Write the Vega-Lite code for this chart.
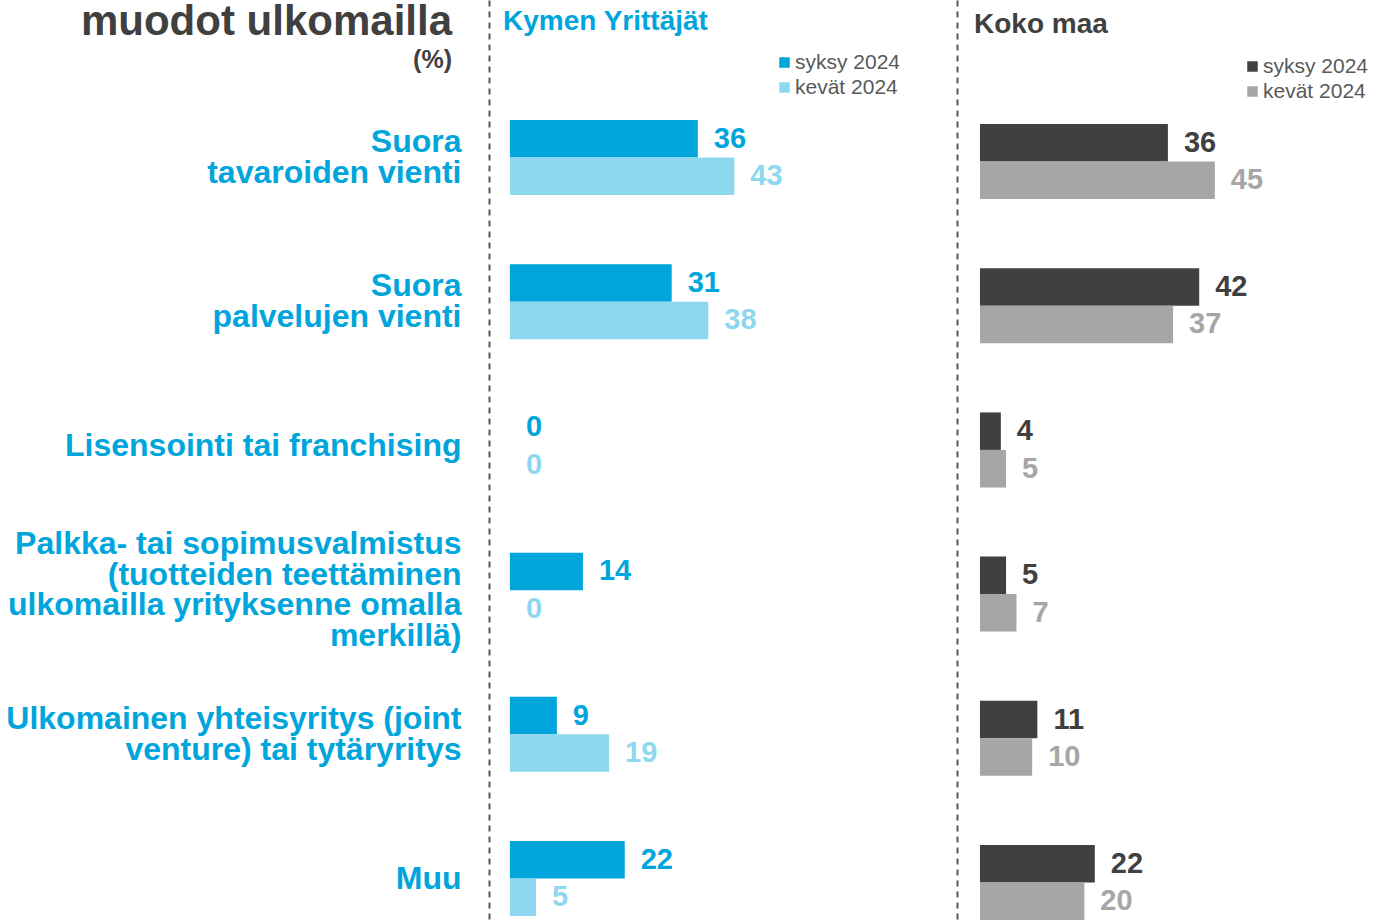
{
  "$schema": "https://vega.github.io/schema/vega-lite/v6.json",
  "background": "white",
  "padding": {"left": 5, "top": 0, "right": 0, "bottom": 0},
  "title": {
    "text": "muodot ulkomailla",
    "subtitle": "(%)",
    "anchor": "start",
    "frame": "group",
    "align": "right",
    "dx": -37,
    "offset": -74,
    "font": "Liberation Sans",
    "fontSize": 42,
    "fontWeight": "bold",
    "color": "#404040",
    "subtitleFont": "Liberation Sans",
    "subtitleFontSize": 25,
    "subtitleFontWeight": "bold",
    "subtitleColor": "#404040",
    "subtitlePadding": 4
  },
  "datasets": {
    "kymen": [
      {"category": "Suora\ntavaroiden vienti", "period": "syksy 2024", "value": 36},
      {"category": "Suora\ntavaroiden vienti", "period": "kevät 2024", "value": 43},
      {"category": "Suora\npalvelujen vienti", "period": "syksy 2024", "value": 31},
      {"category": "Suora\npalvelujen vienti", "period": "kevät 2024", "value": 38},
      {"category": "Lisensointi tai franchising", "period": "syksy 2024", "value": 0},
      {"category": "Lisensointi tai franchising", "period": "kevät 2024", "value": 0},
      {"category": "Palkka- tai sopimusvalmistus\n(tuotteiden teettäminen\nulkomailla yrityksenne omalla\nmerkillä)", "period": "syksy 2024", "value": 14},
      {"category": "Palkka- tai sopimusvalmistus\n(tuotteiden teettäminen\nulkomailla yrityksenne omalla\nmerkillä)", "period": "kevät 2024", "value": 0},
      {"category": "Ulkomainen yhteisyritys (joint\nventure) tai tytäryritys", "period": "syksy 2024", "value": 9},
      {"category": "Ulkomainen yhteisyritys (joint\nventure) tai tytäryritys", "period": "kevät 2024", "value": 19},
      {"category": "Muu", "period": "syksy 2024", "value": 22},
      {"category": "Muu", "period": "kevät 2024", "value": 5}
    ],
    "koko": [
      {"category": "Suora\ntavaroiden vienti", "period": "syksy 2024", "value": 36},
      {"category": "Suora\ntavaroiden vienti", "period": "kevät 2024", "value": 45},
      {"category": "Suora\npalvelujen vienti", "period": "syksy 2024", "value": 42},
      {"category": "Suora\npalvelujen vienti", "period": "kevät 2024", "value": 37},
      {"category": "Lisensointi tai franchising", "period": "syksy 2024", "value": 4},
      {"category": "Lisensointi tai franchising", "period": "kevät 2024", "value": 5},
      {"category": "Palkka- tai sopimusvalmistus\n(tuotteiden teettäminen\nulkomailla yrityksenne omalla\nmerkillä)", "period": "syksy 2024", "value": 5},
      {"category": "Palkka- tai sopimusvalmistus\n(tuotteiden teettäminen\nulkomailla yrityksenne omalla\nmerkillä)", "period": "kevät 2024", "value": 7},
      {"category": "Ulkomainen yhteisyritys (joint\nventure) tai tytäryritys", "period": "syksy 2024", "value": 11},
      {"category": "Ulkomainen yhteisyritys (joint\nventure) tai tytäryritys", "period": "kevät 2024", "value": 10},
      {"category": "Muu", "period": "syksy 2024", "value": 22},
      {"category": "Muu", "period": "kevät 2024", "value": 20}
    ]
  },
  "spacing": 0,
  "hconcat": [
    {
      "width": 468,
      "height": 920,
      "data": {"name": "kymen"},
      "title": {
        "text": "Kymen Yrittäjät",
        "anchor": "start",
        "frame": "group",
        "dx": 14,
        "offset": -36,
        "font": "Liberation Sans",
        "fontSize": 28,
        "fontWeight": "bold",
        "color": "#00A5DC"
      },
      "encoding": {
        "y": {
          "field": "category",
          "type": "nominal",
          "sort": null,
          "scale": {"paddingInner": 0.48, "paddingOuter": 0.43, "align": 0.968},
          "axis": {
            "title": null,
            "domain": true,
            "domainDash": [6, 5],
            "domainColor": "#595959",
            "domainWidth": 2,
            "ticks": false,
            "grid": false,
            "labelExpr": "split(datum.value, '\\n')",
            "labelOffset": {"expr": "-(length(split(datum.value, '\\n')) - 1) * 15.25"},
            "labelFont": "Liberation Sans",
            "labelFontSize": 32,
            "labelFontWeight": "bold",
            "labelColor": "#00A5DC",
            "labelPadding": 28,
            "labelLineHeight": 30.5,
            "labelLimit": 600,
            "labelAlign": "right",
            "labelBaseline": "middle",
            "labelOverlap": false
          }
        },
        "yOffset": {"field": "period", "type": "nominal", "sort": ["syksy 2024", "kevät 2024"]},
        "x": {"field": "value", "type": "quantitative", "scale": {"domain": [-4, 85.65]}, "axis": null},
        "color": {
          "field": "period",
          "type": "nominal",
          "scale": {"domain": ["syksy 2024", "kevät 2024"], "range": ["#00A5DC", "#8DD7EF"]},
          "legend": {
            "orient": "none",
            "legendX": 285,
            "legendY": 52,
            "title": null,
            "symbolType": "square",
            "symbolSize": 110,
            "symbolStrokeWidth": 0,
            "labelFont": "Liberation Sans",
            "labelFontSize": 21,
            "labelColor": "#595959",
            "labelOffset": 0,
            "rowPadding": 3,
            "padding": 0
          }
        }
      },
      "layer": [
        {"mark": {"type": "bar"}},
        {
          "mark": {"type": "text", "align": "left", "baseline": "middle", "dx": 16, "font": "Liberation Sans", "fontSize": 29, "fontWeight": "bold"},
          "encoding": {"text": {"field": "value", "type": "quantitative"}}
        }
      ]
    },
    {
      "width": 439,
      "height": 920,
      "data": {"name": "koko"},
      "title": {
        "text": "Koko maa",
        "anchor": "start",
        "frame": "group",
        "dx": 17,
        "offset": -39,
        "font": "Liberation Sans",
        "fontSize": 28,
        "fontWeight": "bold",
        "color": "#404040"
      },
      "encoding": {
        "y": {
          "field": "category",
          "type": "nominal",
          "sort": null,
          "scale": {"paddingInner": 0.48, "paddingOuter": 0.43, "align": 1},
          "axis": {
            "title": null,
            "domain": true,
            "domainDash": [6, 5],
            "domainColor": "#595959",
            "domainWidth": 2,
            "ticks": false,
            "grid": false,
            "labels": false
          }
        },
        "yOffset": {"field": "period", "type": "nominal", "sort": ["syksy 2024", "kevät 2024"]},
        "x": {"field": "value", "type": "quantitative", "scale": {"domain": [-4.4, 79.7]}, "axis": null},
        "color": {
          "field": "period",
          "type": "nominal",
          "scale": {"domain": ["syksy 2024", "kevät 2024"], "range": ["#404040", "#A6A6A6"]},
          "legend": {
            "orient": "none",
            "legendX": 285,
            "legendY": 56,
            "title": null,
            "symbolType": "square",
            "symbolSize": 110,
            "symbolStrokeWidth": 0,
            "labelFont": "Liberation Sans",
            "labelFontSize": 21,
            "labelColor": "#595959",
            "labelOffset": 0,
            "rowPadding": 3,
            "padding": 0
          }
        }
      },
      "layer": [
        {"mark": {"type": "bar"}},
        {
          "mark": {"type": "text", "align": "left", "baseline": "middle", "dx": 16, "font": "Liberation Sans", "fontSize": 29, "fontWeight": "bold"},
          "encoding": {"text": {"field": "value", "type": "quantitative"}}
        }
      ]
    }
  ],
  "resolve": {
    "scale": {"x": "independent", "y": "independent", "color": "independent", "yOffset": "independent"},
    "legend": {"color": "independent"}
  },
  "config": {
    "view": {"stroke": null},
    "font": "Liberation Sans",
    "concat": {"spacing": 0}
  }
}
